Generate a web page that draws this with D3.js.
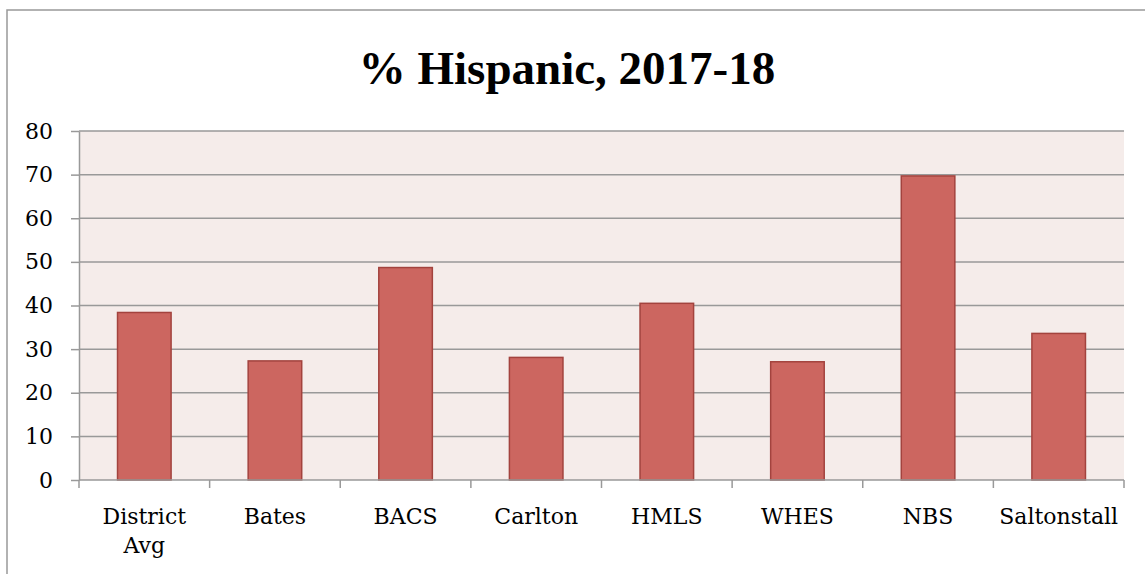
<!DOCTYPE html>
<html>

<head>
    <meta charset="utf-8">
    <title>% Hispanic</title>
    <style type="text/css">
        body { margin: 0; background: #fff; }
        .chart text { font-family: "DejaVu Serif", serif; fill: #000; }
        .chart .title { font-family: "Liberation Serif", serif; font-weight: bold; }
        .axis path, .axis line { stroke: #999; stroke-width: 1.5px; }
        .grid line { stroke: #999; stroke-width: 1.5px; }
        .bar { fill: #cc6660; stroke: #a3433e; stroke-width: 1.5px; }
    </style>
</head>

<body>
    <svg class="chart" width="1145" height="574"></svg>
    <script src="https://cdn.jsdelivr.net/npm/d3@7/dist/d3.min.js"></script>
    <script type="text/javascript">
    var schools = ['District Avg', 'Bates', 'BACS', 'Carlton', 'HMLS', 'WHES', 'NBS', 'Saltonstall'];
    var pctHispanic = [38.4, 27.3, 48.7, 28.1, 40.5, 27.1, 69.7, 33.6];
    var yTicks = [0, 10, 20, 30, 40, 50, 60, 70, 80];

    var svg = d3.select('.chart');
    var plotLeft = 79, plotRight = 1124, plotTop = 131, plotBottom = 480;

    // outer frame (right and bottom edges fall outside the picture)
    svg.append('rect')
        .attr('x', 7).attr('y', 10)
        .attr('width', 1160).attr('height', 600)
        .attr('fill', 'none')
        .attr('stroke', '#999')
        .attr('stroke-width', 1.5);

    svg.append('text')
        .attr('class', 'title')
        .attr('x', 567).attr('y', 84)
        .attr('text-anchor', 'middle')
        .style('font-size', '47px')
        .text('% Hispanic, 2017-18');

    var x = d3.scaleBand().domain(schools).range([plotLeft, plotRight]).paddingInner(0.59).paddingOuter(0.295);
    var xCat = d3.scaleBand().domain(schools).range([plotLeft, plotRight]);
    var y = d3.scaleLinear().domain([0, 80]).range([plotBottom, plotTop]);

    svg.append('rect')
        .attr('x', plotLeft).attr('y', plotTop)
        .attr('width', plotRight - plotLeft).attr('height', plotBottom - plotTop)
        .attr('fill', '#f5ecea');

    svg.append('g')
        .attr('class', 'grid')
        .selectAll('line')
        .data(yTicks.filter(function(d) { return d > 0; }))
        .enter()
        .append('line')
        .attr('x1', plotLeft).attr('x2', plotRight)
        .attr('y1', function(d) { return y(d); })
        .attr('y2', function(d) { return y(d); });

    svg.append('g')
        .selectAll('rect')
        .data(pctHispanic)
        .enter()
        .append('rect')
        .attr('class', 'bar')
        .attr('x', function(d, i) { return x(schools[i]); })
        .attr('y', function(d) { return y(d); })
        .attr('width', x.bandwidth())
        .attr('height', function(d) { return y(0) - y(d); });

    // y axis
    var yAxis = svg.append('g')
        .attr('class', 'axis')
        .attr('transform', 'translate(' + plotLeft + ',0)')
        .call(d3.axisLeft(y).tickValues(yTicks).tickSize(8).tickSizeOuter(0).tickPadding(18));
    yAxis.selectAll('text').style('font-size', '22px');

    // x axis with ticks between categories
    var xAxis = svg.append('g').attr('class', 'axis');
    xAxis.append('line')
        .attr('x1', plotLeft).attr('x2', plotRight)
        .attr('y1', plotBottom).attr('y2', plotBottom);
    xAxis.selectAll('.tick')
        .data(schools.concat(['end']))
        .enter()
        .append('line')
        .attr('x1', function(d, i) { return plotLeft + i * xCat.step(); })
        .attr('x2', function(d, i) { return plotLeft + i * xCat.step(); })
        .attr('y1', plotBottom).attr('y2', plotBottom + 8);

    xAxis.selectAll('text')
        .data(schools)
        .enter()
        .append('text')
        .attr('text-anchor', 'middle')
        .attr('x', function(d) { return xCat(d) + xCat.bandwidth() / 2; })
        .attr('y', 524)
        .style('font-size', '22px')
        .each(function(d) {
            var words = d.split(' ');
            var t = d3.select(this);
            words.forEach(function(w, k) {
                t.append('tspan')
                    .attr('x', xCat(d) + xCat.bandwidth() / 2)
                    .attr('dy', k === 0 ? 0 : 29)
                    .text(w);
            });
        });
    </script>
</body>

</html>
